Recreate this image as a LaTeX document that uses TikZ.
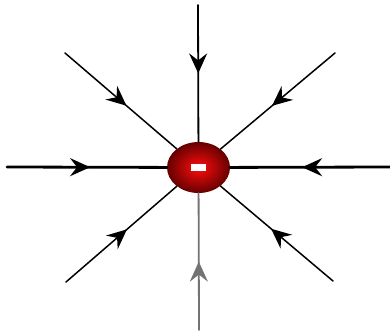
\documentclass[tikz,border=0pt]{standalone}
\usetikzlibrary{arrows.meta,shapes.geometric,decorations.markings}

\tikzset{
	fieldline/.style={line cap=round, postaction={decorate},
		decoration={markings, mark=at position #1 with {\arrow{Stealth[length=20pt, width=18pt, inset=7pt]}}}},
	fieldline/.default=0.55,
	charge/.style={ellipse, minimum width=63pt, minimum height=51pt, inner sep=0pt,
		shading=radial, inner color=red!95!white, outer color=red!40!black}
}

\begin{document}
\begin{tikzpicture}[x=1pt, y=-1pt, line join=round]
	% Picture frame (pixel units, y pointing down)
	\useasboundingbox (0,0) rectangle (390,335);
	
	% The negative point charge
	\node[charge] (q) at (198.5,167.5) {};
	\node[fill=white, minimum width=15pt, minimum height=7pt, inner sep=0pt] (minus) at (q.center) {};
	
	% Free ends of the field lines
	\coordinate (top) at (198,5);
	\coordinate (bot) at (199,330);
	\coordinate (lft) at (7,167);
	\coordinate (rgt) at (390,167);
	\coordinate (ul) at (65,53);
	\coordinate (ur) at (335,53);
	\coordinate (ll) at (66,282);
	\coordinate (lr) at (333,281);
	
	% Field lines pointing into the charge
	\draw[fieldline=0.5, line width=1.8pt] (top) -- (q);
	\draw[fieldline=0.5, line width=1.8pt, black!55] (bot) -- (q);
	\draw[fieldline=0.52, line width=2.8pt] (lft) -- (q);
	\draw[fieldline=0.55, line width=2.8pt] (rgt) -- (q);
	\draw[fieldline, line width=1.5pt] (ul) -- (q);
	\draw[fieldline, line width=1.5pt] (ur) -- (q);
	\draw[fieldline, line width=1.5pt] (ll) -- (q);
	\draw[fieldline, line width=1.5pt] (lr) -- (q);
\end{tikzpicture}
\end{document}
